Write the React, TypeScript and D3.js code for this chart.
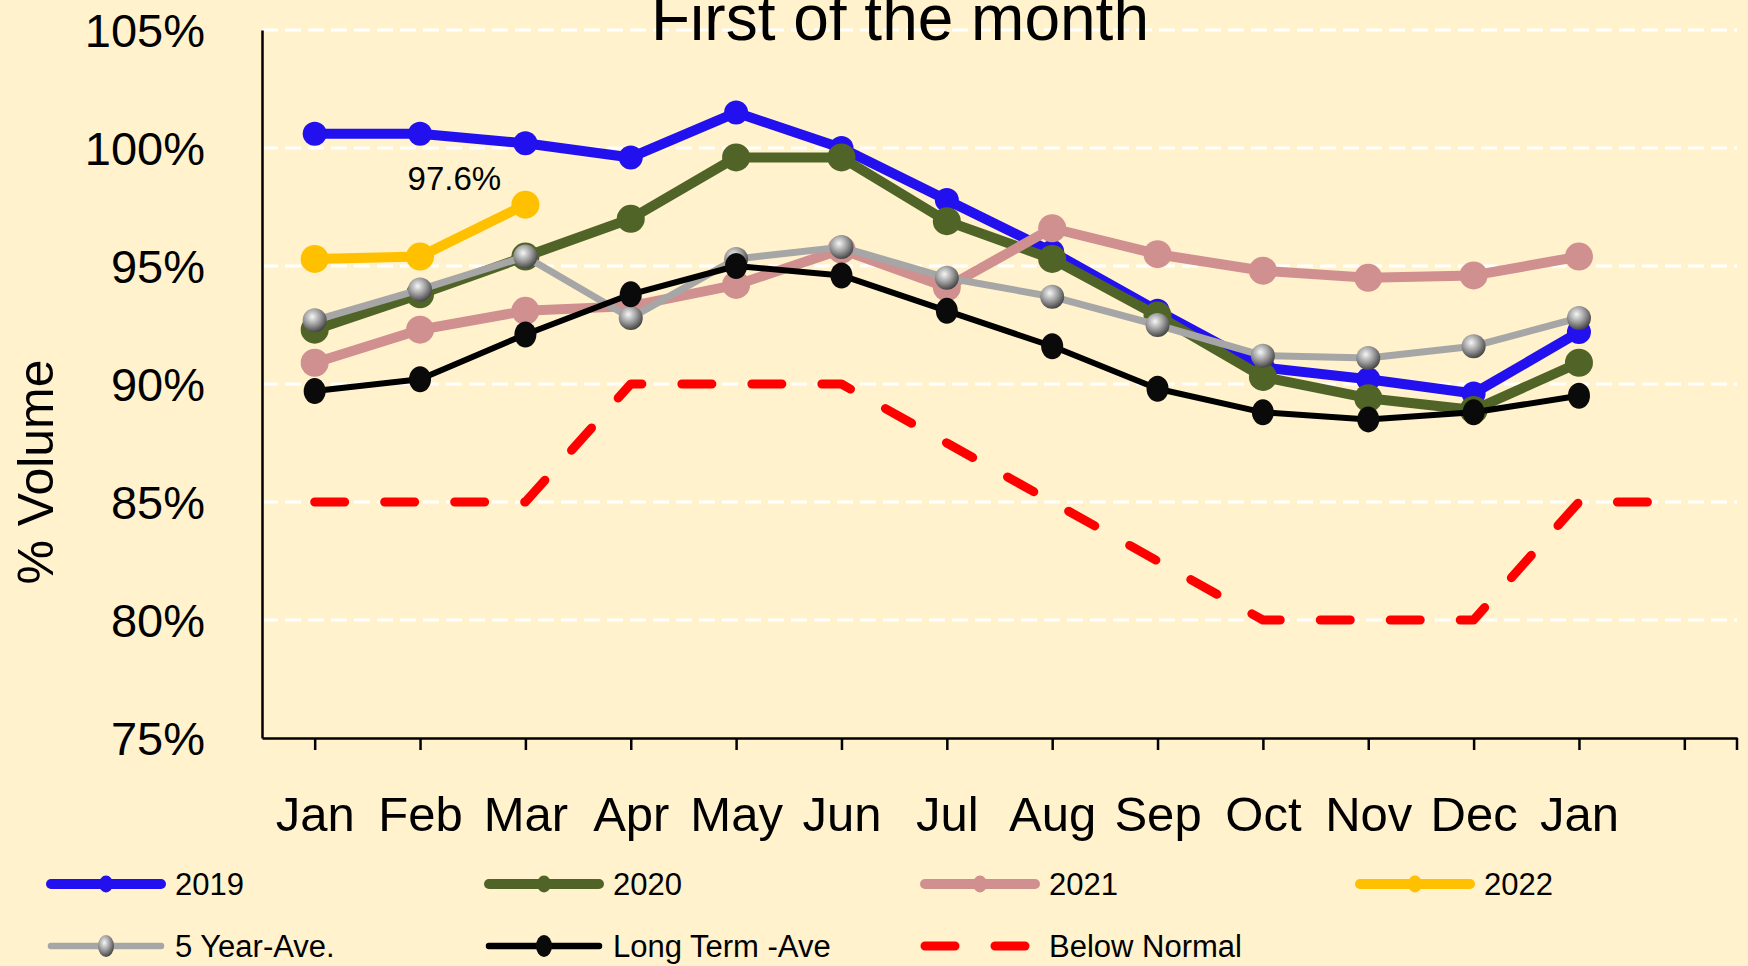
import React, { Component } from "react";
import * as d3 from "d3";

// categories (last slot is empty, only the Below Normal line reaches it)
const months = ["Jan", "Feb", "Mar", "Apr", "May", "Jun", "Jul", "Aug", "Sep", "Oct", "Nov", "Dec", "Jan", ""];
const yTicks = [75, 80, 85, 90, 95, 100, 105];

// % volume, first of the month
const y2019 = [100.6, 100.6, 100.2, 99.6, 101.5, 100.0, 97.8, 95.6, 93.1, 90.7, 90.2, 89.6, 92.2];
const y2020 = [92.3, 93.8, 95.4, 97.0, 99.6, 99.6, 96.9, 95.3, 92.9, 90.3, 89.4, 88.9, 90.9];
const y2021 = [90.9, 92.3, 93.1, 93.3, 94.2, 95.7, 94.1, 96.6, 95.5, 94.8, 94.5, 94.6, 95.4];
const y2022 = [95.3, 95.4, 97.6];
const fiveYearAve = [92.7, 94.0, 95.4, 92.8, 95.3, 95.8, 94.5, 93.7, 92.5, 91.2, 91.1, 91.6, 92.8];
const longTermAve = [89.7, 90.2, 92.1, 93.8, 95.0, 94.6, 93.1, 91.6, 89.8, 88.8, 88.5, 88.8, 89.5];
const belowNormal = [85, 85, 85, 90, 90, 90, 87.5, 85, 82.5, 80, 80, 80, 85, 85];

const W = 1748;
const H = 966;

class App extends Component {
  svgRef = React.createRef<SVGSVGElement>();

  componentDidMount() {
    this.drawChart();
  }

  componentDidUpdate() {
    this.drawChart();
  }

  drawChart() {
    const svg = d3.select(this.svgRef.current);
    svg.selectAll("*").remove();

    const font = "'Liberation Sans', Arial, sans-serif";
    const left = 262, right = 1737, top = 30, bottom = 738;

    svg.append("rect").attr("width", W).attr("height", H).attr("fill", "#FFF2CC");

    const defs = svg.append("defs");
    const grad = defs.append("radialGradient").attr("id", "grayBall")
      .attr("cx", "40%").attr("cy", "35%").attr("r", "65%");
    grad.append("stop").attr("offset", "0%").attr("stop-color", "#f6f6f6");
    grad.append("stop").attr("offset", "55%").attr("stop-color", "#999");
    grad.append("stop").attr("offset", "100%").attr("stop-color", "#474747");

    const x = d3.scalePoint<number>()
      .domain(months.map((_, i) => i))
      .range([left, right])
      .padding(0.5);

    const y = d3.scaleLinear().domain([75, 105]).range([bottom, top]);

    // gridlines
    svg.append("g").selectAll("line")
      .data(yTicks.filter(t => t > 75))
      .join("line")
      .attr("x1", left).attr("x2", right)
      .attr("y1", d => y(d)).attr("y2", d => y(d))
      .attr("stroke", "#fff").attr("stroke-width", 3)
      .attr("stroke-dasharray", "16 7");

    // y axis
    const yAxis = svg.append("g")
      .attr("transform", `translate(${left},0)`)
      .call(d3.axisLeft(y).tickValues(yTicks).tickSize(0).tickPadding(57).tickFormat(d => d + "%"));
    yAxis.select(".domain").attr("stroke", "#000").attr("stroke-width", 2.5);
    yAxis.selectAll("text").attr("font-family", font).attr("font-size", 47).attr("fill", "#000").attr("dy", "0.36em");

    // x axis
    const xAxis = svg.append("g")
      .attr("transform", `translate(0,${bottom})`)
      .call(d3.axisBottom(x).tickSize(12).tickSizeOuter(0).tickPadding(46).tickFormat(i => months[i]));
    xAxis.select(".domain").attr("stroke", "#000").attr("stroke-width", 2.5);
    xAxis.selectAll(".tick line").attr("stroke", "#000").attr("stroke-width", 2.5);
    xAxis.selectAll("text").attr("font-family", font).attr("font-size", 49).attr("fill", "#000");
    xAxis.append("line").attr("x1", right).attr("x2", right).attr("y1", 0).attr("y2", 12)
      .attr("stroke", "#000").attr("stroke-width", 2.5);

    const series = [
      { name: "2019", values: y2019, color: "#2211EE", width: 10, marker: "dot", r: 12 },
      { name: "2020", values: y2020, color: "#506428", width: 10, marker: "dot", r: 14 },
      { name: "2021", values: y2021, color: "#D09090", width: 10, marker: "dot", r: 14 },
      { name: "2022", values: y2022, color: "#FFC000", width: 10, marker: "dot", r: 14 },
      { name: "5 Year-Ave.", values: fiveYearAve, color: "#A6A6A6", width: 7, marker: "ball", r: 12 },
      { name: "Long Term -Ave", values: longTermAve, color: "#000", width: 6, marker: "black", r: 11 },
      { name: "Below Normal", values: belowNormal, color: "#FF0000", width: 9, marker: "none", r: 0 },
    ];

    const line = d3.line<number>().x((_, i) => x(i)).y(d => y(d));

    series.forEach(s => {
      const g = svg.append("g");
      g.append("path")
        .attr("d", line(s.values))
        .attr("fill", "none")
        .attr("stroke", s.color)
        .attr("stroke-width", s.width)
        .attr("stroke-linejoin", "round")
        .attr("stroke-linecap", "round")
        .attr("stroke-dasharray", s.marker === "none" ? "30 40" : null);

      if (s.marker === "dot") {
        g.selectAll("circle").data(s.values).join("circle")
          .attr("cx", (_, i) => x(i)).attr("cy", d => y(d)).attr("r", s.r)
          .attr("fill", s.color);
      } else if (s.marker === "ball") {
        g.selectAll("circle").data(s.values).join("circle")
          .attr("cx", (_, i) => x(i)).attr("cy", d => y(d)).attr("r", s.r)
          .attr("fill", "url(#grayBall)");
      } else if (s.marker === "black") {
        g.selectAll("ellipse").data(s.values).join("ellipse")
          .attr("cx", (_, i) => x(i)).attr("cy", d => y(d)).attr("rx", s.r).attr("ry", s.r + 2)
          .attr("fill", "#0a0a0a");
      }
    });

    // data label on the latest 2022 point
    const lastIdx = y2022.length - 1;
    svg.append("text")
      .attr("x", x(lastIdx) - 71)
      .attr("y", y(y2022[lastIdx]) - 15)
      .attr("text-anchor", "middle")
      .attr("font-family", font).attr("font-size", 33)
      .text(y2022[lastIdx].toFixed(1) + "%");

    // title
    svg.append("text")
      .attr("x", 900).attr("y", 40)
      .attr("text-anchor", "middle")
      .attr("font-family", font).attr("font-size", 64)
      .text("First of the month");

    // y axis title
    svg.append("text")
      .attr("transform", "translate(53,472) rotate(-90)")
      .attr("text-anchor", "middle")
      .attr("font-family", font).attr("font-size", 50)
      .text("% Volume");

    // legend
    const colX = [46, 484, 920, 1355];
    const rowY = [884, 946];
    series.forEach((s, i) => {
      const lx = colX[i % 4];
      const ly = rowY[Math.floor(i / 4)];
      const g = svg.append("g");
      const legW = s.marker === "ball" || s.marker === "black" ? 6.5 : 10;
      g.append("line")
        .attr("x1", lx + 5).attr("x2", lx + 115)
        .attr("y1", ly).attr("y2", ly)
        .attr("stroke", s.color)
        .attr("stroke-width", s.marker === "none" ? 9 : legW)
        .attr("stroke-linecap", "round")
        .attr("stroke-dasharray", s.marker === "none" ? "30 40" : null);
      if (s.marker === "dot") {
        g.append("ellipse").attr("cx", lx + 60).attr("cy", ly).attr("rx", 7).attr("ry", 8.5).attr("fill", s.color);
      } else if (s.marker === "ball") {
        g.append("ellipse").attr("cx", lx + 60).attr("cy", ly).attr("rx", 8).attr("ry", 11).attr("fill", "url(#grayBall)");
      } else if (s.marker === "black") {
        g.append("ellipse").attr("cx", lx + 60).attr("cy", ly).attr("rx", 8).attr("ry", 11).attr("fill", "#0a0a0a");
      }
      g.append("text")
        .attr("x", lx + 129).attr("y", ly + 11)
        .attr("font-family", font).attr("font-size", 31)
        .text(s.name);
    });
  }

  render() {
    return (
      <svg
        ref={this.svgRef}
        width={W}
        height={H}
        style={{ position: "absolute", left: 0, top: 0, display: "block" }}
      ></svg>
    );
  }
}

export default App;
